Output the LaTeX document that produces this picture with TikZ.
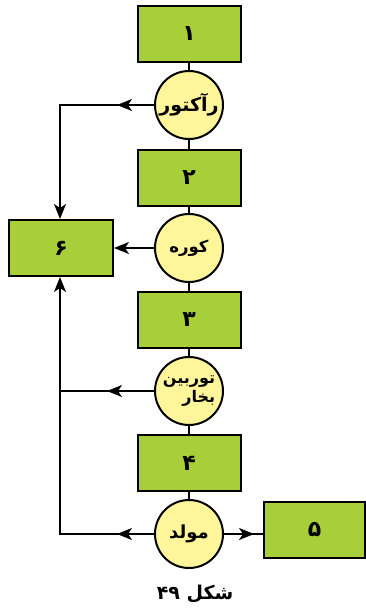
\documentclass[tikz,border=0pt]{standalone}
\usepackage{fontspec}
\newfontfamily\arabicfont[Script=Arabic]{DejaVu Sans}
\TeXXeTstate=1
\usetikzlibrary{arrows.meta,decorations.markings}
\definecolor{boxgreen}{RGB}{168,206,58}
\definecolor{discyellow}{RGB}{255,246,156}
\tikzset{
  stage/.style={draw=black,line width=2pt,fill=boxgreen,minimum width=103pt,minimum height=56pt,inner sep=0pt,font=\arabicfont\bfseries\fontsize{22}{24}\selectfont},
  unit/.style={circle,draw=black,line width=2pt,fill=discyellow,minimum size=68pt,inner sep=0pt,font=\arabicfont\bfseries\fontsize{18}{20}\selectfont},
  flowline/.style={draw=black,line width=1.8pt},
  tip/.tip={Stealth[length=15pt,width=12pt,inset=4pt]},
  midarrow/.style={postaction={decorate,decoration={markings,mark=at position #1 with {\arrow{tip}}}}}
}
\begin{document}
\begin{tikzpicture}[x=1pt,y=-1pt]
\useasboundingbox (0,0) rectangle (365,613);
% main chain
\node[stage] (b1) at (189,34) {\beginR ۱\endR};
\node[unit,font=\arabicfont\bfseries\fontsize{19}{21}\selectfont] (c1) at (189,105) {\beginR رآکتور\endR};
\node[stage] (b2) at (189,177.5) {\beginR ۲\endR};
\node[unit,font=\arabicfont\bfseries\fontsize{16.5}{18}\selectfont] (c2) at (189,248) {\beginR کوره\endR};
\node[stage] (b3) at (189,320) {\beginR ۳\endR};
\node[unit,align=right,font=\arabicfont\bfseries\fontsize{16}{18}\selectfont] (c3) at (189,391) {\beginR توربین\endR\\[1pt]\beginR بخار\endR};
\node[stage] (b4) at (189,463) {\beginR ۴\endR};
\node[unit] (c4) at (189,534) {\beginR مولد\endR};
\node[stage,minimum width=101pt] (b5) at (314.5,530) {\beginR ۵\endR};
\node[stage,minimum width=104pt] (b6) at (61,248) {\beginR ۶\endR};
% corner points of the return lines
\coordinate (k1) at (60,105);
\coordinate (k3) at (60,391);
\coordinate (k4) at (60,534);
% vertical links along the chain
\path[flowline] (b1) -- (c1);
\path[flowline] (c1) -- (b2);
\path[flowline] (b2) -- (c2);
\path[flowline] (c2) -- (b3);
\path[flowline] (b3) -- (c3);
\path[flowline] (c3) -- (b4);
\path[flowline] (b4) -- (c4);
% return lines into box 6
\path[flowline,-{tip},midarrow=37pt] (c1.west) -- (k1) -- (k1 |- b6.north);
\path[flowline,-{tip}] (c2.west) -- (b6.east);
\path[flowline,midarrow=47pt] (c3.west) -- (k3);
\path[flowline,-{tip},midarrow=37pt] (c4.west) -- (k4) -- (k4 |- b6.south);
\path[flowline,midarrow=30pt] (c4.east) -- (c4.east -| b5.west);
% caption
\node[font=\arabicfont\bfseries\fontsize{19}{22}\selectfont] (cap) at (195,594) {\beginR شکل ۴۹\endR};
\end{tikzpicture}
\end{document}
